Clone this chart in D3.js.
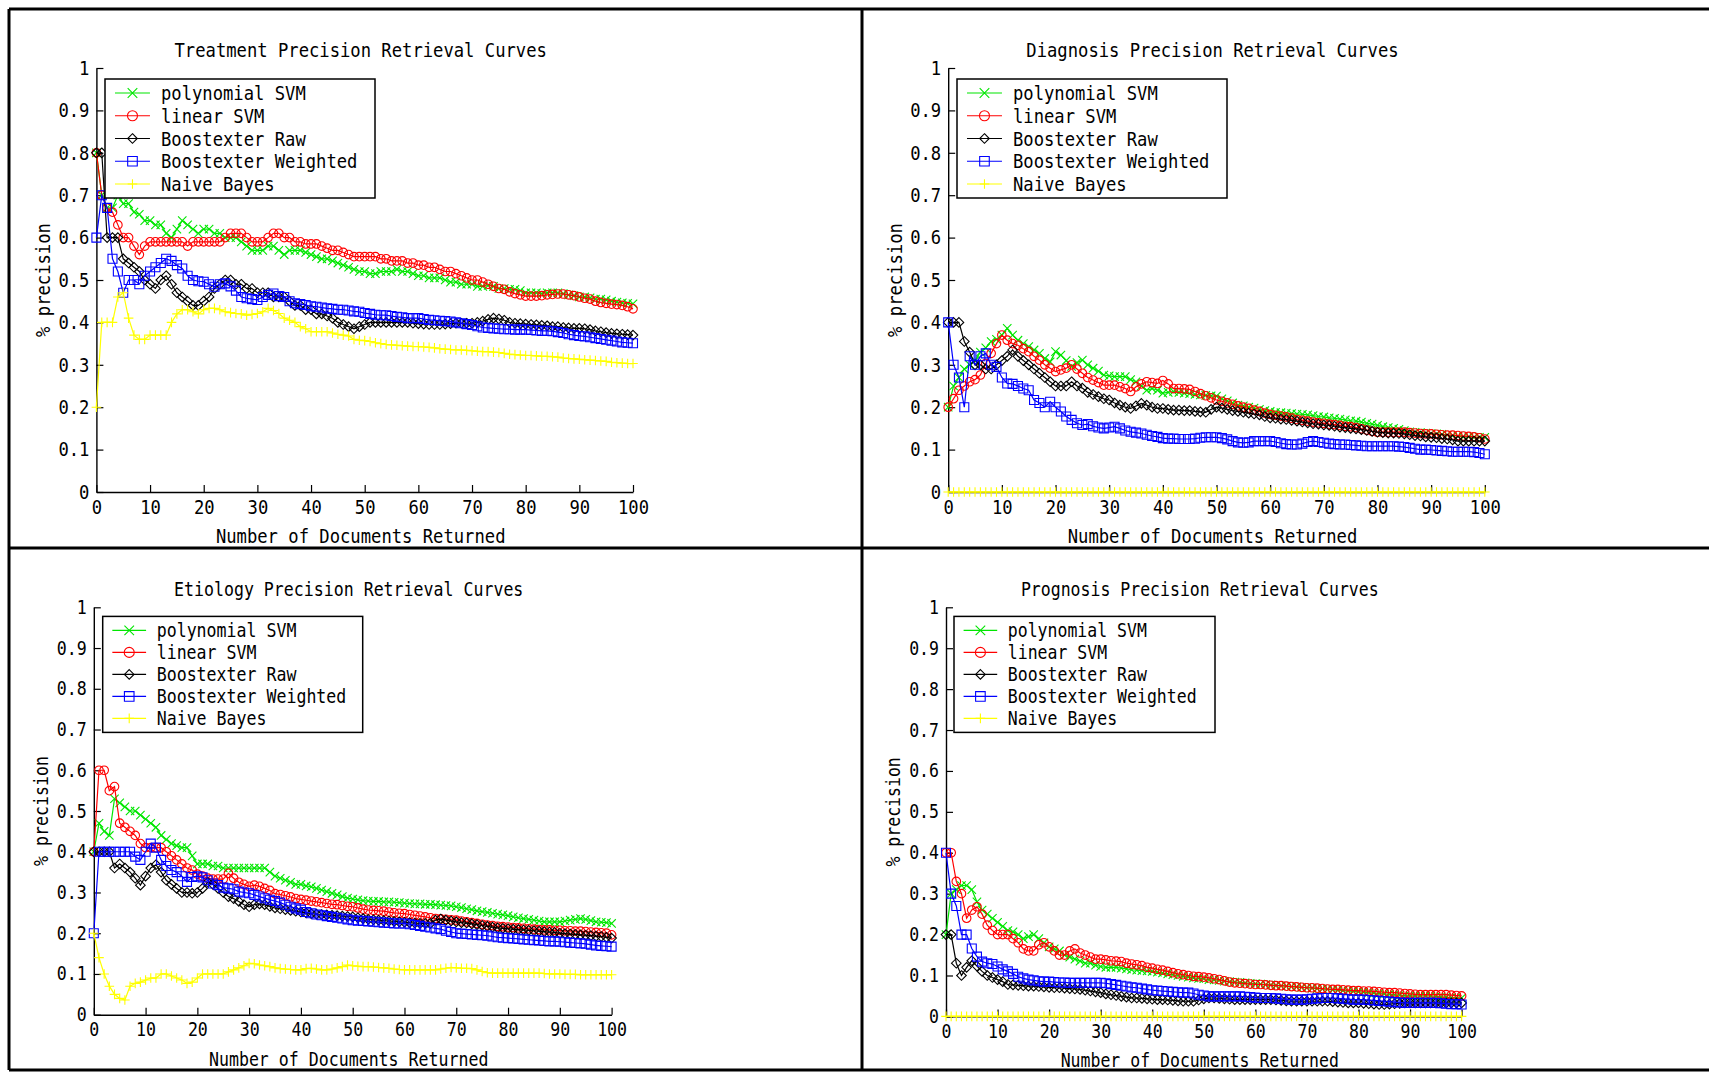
<!DOCTYPE html>
<html lang="en">
<head>
<meta charset="utf-8">
<title>Precision Retrieval Curves</title>
<script src="https://cdn.jsdelivr.net/npm/d3@7"></script>
<style>
  body { margin: 0; background: #fff; }
  svg text { font-family: "DejaVu Sans Mono", "Liberation Mono", monospace; fill: #000; }
  .frame { fill: none; stroke: #000; stroke-width: 3; }
  .legend_box { fill: #fff; stroke: #000; stroke-width: 1.5; }
</style>
</head>
<body>
<div id="chart"></div>
<script>
// ---- data (precision at k documents returned, k = array index 0..100) ----
var seriesNames = ["polynomial SVM", "linear SVM", "Boostexter Raw", "Boostexter Weighted", "Naive Bayes"];
var xTicks = [0, 10, 20, 30, 40, 50, 60, 70, 80, 90, 100];
var yTicks = [0, 0.1, 0.2, 0.3, 0.4, 0.5, 0.6, 0.7, 0.8, 0.9, 1];
var yTickLabels = ["0", "0.1", "0.2", "0.3", "0.4", "0.5", "0.6", "0.7", "0.8", "0.9", "1"];

// Treatment
var trtPoly = [0.80,0.70,0.67,0.67,0.70,0.68,0.68,0.66,0.655,0.64,
  0.64,0.63,0.63,0.61,0.60,0.62,0.64,0.63,0.62,0.61,
  0.62,0.62,0.61,0.61,0.60,0.60,0.60,0.59,0.58,0.57,
  0.57,0.57,0.58,0.58,0.57,0.56,0.57,0.57,0.57,0.565,
  0.56,0.555,0.55,0.55,0.545,0.54,0.535,0.53,0.525,0.52,
  0.52,0.515,0.515,0.52,0.52,0.52,0.525,0.52,0.52,0.515,
  0.51,0.51,0.505,0.505,0.505,0.50,0.495,0.495,0.49,0.49,
  0.49,0.485,0.485,0.487,0.485,0.48,0.48,0.478,0.478,0.475,
  0.47,0.47,0.47,0.468,0.47,0.47,0.47,0.468,0.465,0.463,
  0.46,0.46,0.458,0.455,0.455,0.453,0.45,0.448,0.446,0.445,0.444];
var trtLin = [0.80,0.70,0.67,0.66,0.63,0.60,0.60,0.58,0.56,0.58,
  0.59,0.59,0.59,0.59,0.59,0.59,0.59,0.58,0.59,0.59,
  0.59,0.59,0.59,0.59,0.60,0.61,0.61,0.61,0.60,0.59,
  0.59,0.59,0.60,0.61,0.61,0.60,0.60,0.59,0.59,0.585,
  0.585,0.585,0.58,0.575,0.57,0.57,0.565,0.56,0.555,0.555,
  0.555,0.555,0.555,0.55,0.55,0.545,0.545,0.545,0.54,0.54,
  0.535,0.535,0.53,0.53,0.525,0.52,0.52,0.515,0.51,0.505,
  0.50,0.50,0.495,0.49,0.485,0.48,0.478,0.472,0.468,0.465,
  0.462,0.462,0.462,0.463,0.465,0.466,0.467,0.467,0.465,0.463,
  0.46,0.457,0.455,0.45,0.447,0.445,0.443,0.442,0.44,0.437,0.432];
var trtRaw = [0.80,0.80,0.60,0.60,0.60,0.55,0.54,0.53,0.52,0.50,
  0.49,0.48,0.50,0.51,0.49,0.47,0.46,0.45,0.44,0.44,
  0.45,0.46,0.48,0.49,0.50,0.50,0.49,0.49,0.48,0.48,
  0.47,0.47,0.47,0.46,0.46,0.46,0.45,0.44,0.44,0.43,
  0.43,0.42,0.42,0.415,0.41,0.40,0.395,0.39,0.385,0.39,
  0.395,0.40,0.40,0.40,0.40,0.40,0.40,0.40,0.40,0.398,
  0.397,0.396,0.395,0.395,0.395,0.396,0.397,0.398,0.398,0.398,
  0.398,0.40,0.403,0.407,0.41,0.408,0.405,0.40,0.398,0.397,
  0.396,0.395,0.394,0.393,0.392,0.39,0.39,0.388,0.387,0.386,
  0.386,0.385,0.383,0.38,0.378,0.376,0.374,0.373,0.372,0.371,0.37];
var trtWtd = [0.60,0.70,0.67,0.55,0.52,0.47,0.50,0.50,0.49,0.51,
  0.52,0.53,0.54,0.55,0.545,0.535,0.527,0.51,0.50,0.497,
  0.496,0.49,0.484,0.49,0.492,0.485,0.475,0.46,0.457,0.455,
  0.453,0.46,0.465,0.468,0.462,0.46,0.45,0.445,0.443,0.441,
  0.438,0.437,0.435,0.433,0.432,0.43,0.43,0.428,0.426,0.425,
  0.422,0.42,0.418,0.417,0.417,0.415,0.413,0.412,0.41,0.41,
  0.41,0.408,0.406,0.405,0.404,0.403,0.402,0.40,0.398,0.396,
  0.394,0.391,0.388,0.387,0.386,0.385,0.384,0.384,0.383,0.383,
  0.383,0.382,0.381,0.38,0.38,0.379,0.377,0.375,0.372,0.37,
  0.368,0.367,0.365,0.363,0.361,0.359,0.357,0.355,0.353,0.352,0.351];
var trtNB = [0.20,0.40,0.40,0.40,0.46,0.47,0.41,0.37,0.36,0.36,
  0.37,0.37,0.37,0.37,0.40,0.42,0.43,0.43,0.425,0.42,
  0.43,0.433,0.433,0.43,0.425,0.423,0.421,0.42,0.417,0.419,
  0.421,0.425,0.433,0.428,0.421,0.41,0.405,0.40,0.39,0.385,
  0.378,0.378,0.378,0.378,0.375,0.372,0.37,0.368,0.36,0.358,
  0.357,0.355,0.352,0.35,0.348,0.347,0.346,0.345,0.344,0.343,
  0.343,0.342,0.341,0.34,0.338,0.337,0.336,0.335,0.335,0.334,
  0.333,0.332,0.331,0.331,0.33,0.329,0.327,0.325,0.324,0.323,
  0.322,0.322,0.321,0.32,0.32,0.319,0.318,0.316,0.315,0.314,
  0.313,0.312,0.311,0.31,0.309,0.308,0.306,0.305,0.304,0.303,0.303];

// Diagnosis
var dxPoly = [0.20,0.25,0.27,0.29,0.30,0.31,0.33,0.34,0.355,0.36,
  0.37,0.386,0.37,0.358,0.35,0.343,0.335,0.327,0.315,0.307,
  0.331,0.323,0.31,0.296,0.305,0.311,0.30,0.292,0.285,0.276,
  0.274,0.272,0.272,0.272,0.265,0.26,0.25,0.24,0.244,0.24,
  0.233,0.235,0.237,0.235,0.233,0.232,0.23,0.229,0.228,0.227,
  0.226,0.22,0.215,0.21,0.205,0.203,0.20,0.198,0.195,0.192,
  0.19,0.188,0.187,0.186,0.185,0.184,0.183,0.182,0.18,0.178,
  0.177,0.175,0.174,0.172,0.17,0.168,0.167,0.165,0.162,0.16,
  0.157,0.154,0.152,0.15,0.148,0.145,0.142,0.141,0.14,0.139,
  0.138,0.137,0.136,0.134,0.133,0.132,0.13,0.13,0.129,0.129,0.129];
var dxLin = [0.20,0.22,0.24,0.25,0.26,0.265,0.276,0.303,0.327,0.35,
  0.37,0.358,0.35,0.346,0.338,0.331,0.32,0.311,0.30,0.292,
  0.284,0.288,0.292,0.30,0.29,0.28,0.27,0.264,0.258,0.252,
  0.252,0.252,0.248,0.244,0.237,0.248,0.255,0.26,0.258,0.256,
  0.263,0.255,0.244,0.244,0.243,0.242,0.237,0.232,0.227,0.222,
  0.217,0.214,0.21,0.207,0.203,0.20,0.197,0.193,0.19,0.186,
  0.183,0.181,0.179,0.177,0.174,0.171,0.169,0.167,0.165,0.163,
  0.162,0.16,0.159,0.157,0.155,0.154,0.152,0.149,0.146,0.143,
  0.141,0.141,0.141,0.141,0.141,0.141,0.14,0.139,0.138,0.137,
  0.137,0.136,0.135,0.134,0.134,0.133,0.132,0.131,0.13,0.128,0.125];
var dxRaw = [0.40,0.40,0.40,0.355,0.33,0.30,0.30,0.29,0.29,0.30,
  0.31,0.32,0.335,0.32,0.31,0.30,0.29,0.28,0.27,0.26,
  0.25,0.25,0.25,0.26,0.25,0.245,0.235,0.23,0.225,0.22,
  0.217,0.21,0.205,0.20,0.197,0.203,0.209,0.205,0.20,0.197,
  0.197,0.195,0.193,0.193,0.192,0.192,0.19,0.189,0.188,0.195,
  0.20,0.198,0.195,0.192,0.19,0.188,0.186,0.184,0.182,0.178,
  0.175,0.174,0.172,0.171,0.169,0.167,0.165,0.163,0.161,0.16,
  0.158,0.157,0.155,0.153,0.152,0.15,0.149,0.147,0.145,0.143,
  0.141,0.14,0.139,0.139,0.138,0.137,0.135,0.133,0.132,0.13,
  0.129,0.128,0.126,0.125,0.123,0.12,0.12,0.12,0.12,0.12,0.12];
var dxWtd = [0.40,0.30,0.27,0.20,0.32,0.30,0.32,0.327,0.30,0.295,
  0.27,0.256,0.255,0.25,0.244,0.24,0.217,0.21,0.20,0.213,
  0.20,0.19,0.178,0.17,0.162,0.158,0.16,0.155,0.152,0.15,
  0.152,0.154,0.15,0.145,0.142,0.14,0.138,0.135,0.132,0.13,
  0.127,0.126,0.126,0.125,0.125,0.125,0.126,0.128,0.129,0.129,
  0.129,0.127,0.124,0.12,0.117,0.116,0.117,0.12,0.12,0.12,
  0.12,0.118,0.115,0.113,0.112,0.112,0.114,0.118,0.12,0.118,
  0.116,0.114,0.113,0.112,0.112,0.111,0.11,0.109,0.108,0.108,
  0.108,0.108,0.108,0.108,0.107,0.106,0.104,0.102,0.10,0.10,
  0.099,0.098,0.097,0.096,0.095,0.095,0.095,0.095,0.094,0.092,0.089];
var dxNB = [0,0,0,0,0,0,0,0,0,0, 0,0,0,0,0,0,0,0,0,0,
  0,0,0,0,0,0,0,0,0,0, 0,0,0,0,0,0,0,0,0,0,
  0,0,0,0,0,0,0,0,0,0, 0,0,0,0,0,0,0,0,0,0,
  0,0,0,0,0,0,0,0,0,0, 0,0,0,0,0,0,0,0,0,0,
  0,0,0,0,0,0,0,0,0,0, 0,0,0,0,0,0,0,0,0,0, 0];

// Etiology
var etPoly = [0.40,0.47,0.45,0.44,0.53,0.52,0.51,0.50,0.50,0.49,
  0.48,0.47,0.46,0.44,0.43,0.42,0.415,0.41,0.41,0.39,
  0.37,0.37,0.37,0.365,0.365,0.36,0.36,0.36,0.36,0.36,
  0.36,0.36,0.36,0.36,0.35,0.34,0.335,0.33,0.325,0.32,
  0.32,0.316,0.314,0.31,0.306,0.302,0.298,0.294,0.29,0.286,
  0.284,0.282,0.28,0.279,0.278,0.278,0.277,0.277,0.276,0.275,
  0.274,0.273,0.272,0.272,0.271,0.271,0.27,0.269,0.268,0.267,
  0.265,0.263,0.26,0.258,0.255,0.253,0.251,0.249,0.247,0.245,
  0.243,0.24,0.238,0.236,0.234,0.232,0.23,0.228,0.228,0.228,
  0.228,0.23,0.232,0.234,0.236,0.234,0.231,0.228,0.227,0.226,0.224];
var etLin = [0.40,0.60,0.60,0.55,0.56,0.47,0.46,0.45,0.44,0.42,
  0.41,0.41,0.41,0.41,0.40,0.39,0.38,0.37,0.36,0.355,
  0.345,0.34,0.335,0.333,0.333,0.333,0.347,0.335,0.325,0.32,
  0.315,0.318,0.315,0.31,0.305,0.297,0.295,0.292,0.289,0.285,
  0.283,0.281,0.279,0.277,0.275,0.273,0.271,0.27,0.268,0.266,
  0.265,0.262,0.259,0.257,0.256,0.255,0.254,0.252,0.25,0.249,
  0.248,0.246,0.244,0.242,0.24,0.238,0.236,0.235,0.234,0.233,
  0.232,0.23,0.228,0.226,0.224,0.222,0.22,0.219,0.217,0.216,
  0.215,0.214,0.213,0.212,0.211,0.21,0.209,0.208,0.208,0.207,
  0.207,0.206,0.206,0.205,0.205,0.204,0.203,0.202,0.201,0.20,0.196];
var etRaw = [0.40,0.40,0.40,0.40,0.36,0.37,0.36,0.35,0.335,0.318,
  0.34,0.36,0.368,0.35,0.33,0.32,0.31,0.30,0.30,0.298,
  0.30,0.31,0.325,0.32,0.31,0.30,0.29,0.285,0.278,0.27,
  0.265,0.27,0.272,0.27,0.266,0.262,0.26,0.258,0.256,0.254,
  0.252,0.25,0.248,0.247,0.246,0.245,0.244,0.243,0.242,0.241,
  0.24,0.238,0.236,0.234,0.233,0.232,0.231,0.23,0.229,0.228,
  0.227,0.226,0.225,0.224,0.224,0.224,0.232,0.235,0.232,0.23,
  0.228,0.226,0.225,0.223,0.221,0.219,0.217,0.215,0.213,0.212,
  0.211,0.21,0.209,0.208,0.207,0.206,0.205,0.204,0.203,0.202,
  0.20,0.199,0.198,0.197,0.196,0.195,0.194,0.193,0.192,0.19,0.188];
var etWtd = [0.20,0.40,0.40,0.40,0.40,0.40,0.40,0.40,0.388,0.38,
  0.40,0.42,0.41,0.38,0.365,0.355,0.35,0.34,0.326,0.338,
  0.34,0.337,0.33,0.322,0.318,0.312,0.31,0.308,0.302,0.30,
  0.298,0.294,0.29,0.286,0.282,0.279,0.275,0.27,0.265,0.261,
  0.258,0.252,0.249,0.246,0.244,0.242,0.24,0.238,0.236,0.234,
  0.232,0.231,0.23,0.229,0.228,0.227,0.226,0.225,0.224,0.224,
  0.224,0.222,0.22,0.218,0.216,0.214,0.212,0.21,0.206,0.203,
  0.20,0.199,0.198,0.197,0.196,0.195,0.194,0.192,0.19,0.189,
  0.188,0.187,0.186,0.185,0.184,0.183,0.182,0.181,0.18,0.18,
  0.179,0.178,0.177,0.176,0.175,0.174,0.172,0.17,0.169,0.168,0.167];
var etNB = [0.20,0.14,0.10,0.07,0.05,0.04,0.036,0.07,0.077,0.08,
  0.085,0.09,0.09,0.10,0.10,0.095,0.09,0.085,0.077,0.08,
  0.09,0.10,0.10,0.10,0.10,0.10,0.105,0.11,0.115,0.12,
  0.126,0.125,0.122,0.12,0.118,0.115,0.113,0.112,0.111,0.11,
  0.11,0.113,0.114,0.112,0.11,0.11,0.112,0.115,0.118,0.122,
  0.12,0.119,0.118,0.118,0.117,0.116,0.115,0.114,0.112,0.111,
  0.11,0.11,0.11,0.11,0.11,0.11,0.11,0.112,0.114,0.116,
  0.115,0.114,0.114,0.113,0.11,0.106,0.103,0.102,0.102,0.102,
  0.102,0.102,0.102,0.102,0.102,0.102,0.102,0.101,0.10,0.10,
  0.10,0.099,0.099,0.099,0.098,0.098,0.098,0.098,0.098,0.098,0.098];

// Prognosis
var prPoly = [0.20,0.30,0.31,0.32,0.32,0.31,0.28,0.26,0.25,0.24,
  0.23,0.22,0.21,0.207,0.20,0.19,0.195,0.20,0.19,0.18,
  0.17,0.165,0.16,0.15,0.145,0.14,0.135,0.13,0.13,0.125,
  0.122,0.12,0.12,0.12,0.118,0.116,0.114,0.113,0.112,0.111,
  0.11,0.108,0.106,0.104,0.102,0.10,0.098,0.096,0.094,0.093,
  0.092,0.09,0.089,0.088,0.086,0.085,0.084,0.083,0.082,0.081,
  0.08,0.079,0.078,0.077,0.076,0.075,0.074,0.073,0.072,0.071,
  0.07,0.069,0.068,0.067,0.066,0.065,0.064,0.063,0.062,0.061,
  0.06,0.059,0.058,0.057,0.056,0.055,0.054,0.053,0.052,0.051,
  0.05,0.05,0.05,0.05,0.05,0.049,0.048,0.047,0.046,0.046,0.045];
var prLin = [0.40,0.40,0.33,0.30,0.24,0.26,0.268,0.25,0.223,0.21,
  0.20,0.20,0.20,0.19,0.18,0.165,0.16,0.16,0.175,0.18,
  0.17,0.16,0.15,0.15,0.16,0.165,0.155,0.15,0.145,0.14,
  0.14,0.138,0.136,0.135,0.134,0.13,0.128,0.126,0.124,0.12,
  0.118,0.115,0.113,0.11,0.107,0.104,0.102,0.10,0.098,0.097,
  0.096,0.094,0.092,0.09,0.087,0.084,0.082,0.081,0.08,0.079,
  0.078,0.078,0.077,0.076,0.075,0.075,0.074,0.073,0.072,0.071,
  0.07,0.07,0.069,0.068,0.067,0.066,0.066,0.065,0.064,0.063,
  0.063,0.062,0.062,0.061,0.06,0.059,0.058,0.058,0.057,0.056,
  0.055,0.054,0.053,0.053,0.053,0.053,0.053,0.053,0.052,0.051,0.05];
var prRaw = [0.20,0.20,0.13,0.10,0.12,0.136,0.123,0.11,0.10,0.095,
  0.09,0.085,0.078,0.077,0.076,0.075,0.074,0.074,0.073,0.072,
  0.071,0.07,0.07,0.069,0.068,0.067,0.066,0.064,0.062,0.06,
  0.058,0.055,0.053,0.051,0.049,0.047,0.045,0.045,0.044,0.043,
  0.042,0.041,0.041,0.04,0.039,0.038,0.037,0.037,0.037,0.04,
  0.043,0.045,0.045,0.044,0.043,0.042,0.041,0.041,0.041,0.041,
  0.041,0.041,0.041,0.041,0.04,0.039,0.038,0.037,0.037,0.037,
  0.037,0.037,0.037,0.037,0.037,0.036,0.035,0.034,0.033,0.033,
  0.033,0.032,0.031,0.03,0.029,0.029,0.03,0.031,0.032,0.033,
  0.033,0.033,0.033,0.033,0.033,0.033,0.033,0.033,0.033,0.033,0.033];
var prWtd = [0.40,0.30,0.27,0.20,0.20,0.166,0.146,0.134,0.13,0.128,
  0.122,0.115,0.11,0.104,0.097,0.093,0.09,0.088,0.086,0.085,
  0.085,0.084,0.083,0.083,0.082,0.082,0.082,0.082,0.082,0.082,
  0.082,0.081,0.079,0.077,0.075,0.073,0.071,0.07,0.068,0.066,
  0.064,0.063,0.062,0.061,0.06,0.059,0.058,0.058,0.056,0.053,
  0.051,0.049,0.049,0.049,0.049,0.049,0.049,0.049,0.048,0.047,
  0.046,0.045,0.045,0.045,0.044,0.043,0.042,0.041,0.041,0.041,
  0.042,0.043,0.044,0.045,0.045,0.045,0.044,0.043,0.042,0.041,
  0.041,0.041,0.04,0.039,0.038,0.037,0.036,0.035,0.034,0.033,
  0.033,0.033,0.033,0.033,0.033,0.033,0.032,0.031,0.03,0.03,0.029];
var prNB = [0,0,0,0,0,0,0,0,0,0, 0,0,0,0,0,0,0,0,0,0,
  0,0,0,0,0,0,0,0,0,0, 0,0,0,0,0,0,0,0,0,0,
  0,0,0,0,0,0,0,0,0,0, 0,0,0,0,0,0,0,0,0,0,
  0,0,0,0,0,0,0,0,0,0, 0,0,0,0,0,0,0,0,0,0,
  0,0,0,0,0,0,0,0,0,0, 0,0,0,0,0,0,0,0,0,0, 0];

// ---- styles ----
var colors = ["#00e600", "#ff0000", "#000000", "#0000ff", "#ffff00"];
var markers = ["x", "o", "d", "s", "+"];
var FONT = '"DejaVu Sans Mono", "Liberation Mono", monospace';
var CHAR_W = 10.35; // width of one character of the fixed font in the picture

// panel layout (pixel positions of the axes in the 1709x1073 page)
var panels = [
  {title: "Treatment Precision Retrieval Curves", data: [trtPoly, trtLin, trtRaw, trtWtd, trtNB],
   left: 96.4, right: 633, top: 68, bottom: 492, legend: {x: 105, y: 79, w: 270, h: 119}},
  {title: "Diagnosis Precision Retrieval Curves", data: [dxPoly, dxLin, dxRaw, dxWtd, dxNB],
   left: 948.2, right: 1484.8, top: 68, bottom: 492, legend: {x: 957, y: 79, w: 270, h: 119}},
  {title: "Etiology Precision Retrieval Curves", data: [etPoly, etLin, etRaw, etWtd, etNB],
   left: 93.8, right: 611.6, top: 607.3, bottom: 1014.7, legend: {x: 102.7, y: 616.4, w: 260, h: 116}},
  {title: "Prognosis Precision Retrieval Curves", data: [prPoly, prLin, prRaw, prWtd, prNB],
   left: 946, right: 1461.6, top: 607.3, bottom: 1016.4, legend: {x: 954, y: 616.4, w: 261, h: 116}}
];

var W = 1709, H = 1073;
var svg = d3.select("#chart").append("svg")
  .attr("width", W).attr("height", H)
  .style("display", "block");

svg.append("rect").attr("width", W).attr("height", H).attr("fill", "#fff");

// frame lines round the four panels
svg.append("path").attr("class", "frame")
  .attr("d", "M9,9H" + W + "M9,548H" + W + "M9,1070H" + W + "M9,9V1070M862,9V1070");

function markerPath(type, r) {
  if (type == "x") return "M" + (-r) + "," + (-r) + "L" + r + "," + r + "M" + (-r) + "," + r + "L" + r + "," + (-r);
  if (type == "+") return "M" + (-r) + ",0H" + r + "M0," + (-r) + "V" + r;
  if (type == "d") return "M0," + (-r) + "L" + r + ",0L0," + r + "L" + (-r) + ",0Z";
  if (type == "s") return "M" + (-r) + "," + (-r) + "H" + r + "V" + r + "H" + (-r) + "Z";
  // circle
  return "M" + r + ",0A" + r + "," + r + " 0 1,1 " + (-r) + ",0A" + r + "," + r + " 0 1,1 " + r + ",0";
}
var markerSize = {x: 4.2, o: 4.3, d: 4.8, s: 4.5, "+": 4.8};

// tall narrow fixed font: squeeze a bigger font into the glyph width of the picture
function fitText(sel, s) {
  sel.each(function() {
    var t = d3.select(this);
    var n = t.text().length;
    t.attr("textLength", n * CHAR_W * s).attr("lengthAdjust", "spacingAndGlyphs");
  });
}

panels.forEach(function(p) {
  var s = (p.right - p.left) / 537; // size factor of the panel
  var fs = 19.5 * s;
  var x = d3.scaleLinear().domain([0, 100]).range([p.left, p.right]);
  var y = d3.scaleLinear().domain([0, 1]).range([p.bottom, p.top]);
  var g = svg.append("g");

  // axes with inward ticks
  var xAxis = d3.axisBottom(x).tickValues(xTicks).tickSizeInner(-7).tickSizeOuter(0).tickPadding(8);
  var yAxis = d3.axisLeft(y).tickValues(yTicks).tickSizeInner(-7).tickSizeOuter(0).tickPadding(7)
    .tickFormat(function(d, i) { return yTickLabels[i]; });

  var gx = g.append("g").attr("transform", "translate(0," + p.bottom + ")").call(xAxis)
    .attr("font-family", FONT).attr("font-size", fs);
  var gy = g.append("g").attr("transform", "translate(" + p.left + ",0)").call(yAxis)
    .attr("font-family", FONT).attr("font-size", fs);
  fitText(gx.selectAll(".tick text"), s);
  fitText(gy.selectAll(".tick text"), s);
  g.selectAll(".domain").attr("stroke-width", 1.4);
  g.selectAll(".tick line").attr("stroke-width", 1.2);

  // series
  var line = d3.line().x(function(d, i) { return x(i); }).y(function(d) { return y(d); });
  p.data.forEach(function(vals, k) {
    var sg = g.append("g");
    sg.append("path").datum(vals)
      .attr("d", line)
      .attr("fill", "none")
      .attr("stroke", colors[k])
      .attr("stroke-width", 1.2);
    sg.selectAll("path.mk").data(vals).enter().append("path")
      .attr("class", "mk")
      .attr("transform", function(d, i) { return "translate(" + x(i) + "," + y(d) + ")"; })
      .attr("d", markerPath(markers[k], markerSize[markers[k]]))
      .attr("fill", "none")
      .attr("stroke", colors[k])
      .attr("stroke-width", 1.1);
  });

  // title and axis labels
  var cx = (p.left + p.right) / 2 - 4;
  g.append("text").attr("x", cx).attr("y", p.top - 11)
    .attr("text-anchor", "middle").attr("font-size", fs)
    .text(p.title).call(fitText, s);
  g.append("text").attr("x", cx).attr("y", p.bottom + 51)
    .attr("text-anchor", "middle").attr("font-size", fs)
    .text("Number of Documents Returned").call(fitText, s);
  g.append("text")
    .attr("transform", "translate(" + (p.left - 46) + "," + ((p.top + p.bottom) / 2) + ") rotate(-90)")
    .attr("text-anchor", "middle").attr("font-size", fs)
    .text("% precision").call(fitText, s);

  // legend
  var L = p.legend;
  var lg = g.append("g").attr("transform", "translate(" + L.x + "," + L.y + ")");
  lg.append("rect").attr("class", "legend_box").attr("width", L.w).attr("height", L.h);
  var step = (L.h - 28) / 4;
  seriesNames.forEach(function(name, k) {
    var ry = 14 + k * step;
    lg.append("line").attr("x1", 10 * s).attr("x2", 45 * s).attr("y1", ry).attr("y2", ry)
      .attr("stroke", colors[k]).attr("stroke-width", 1.2);
    lg.append("path").attr("transform", "translate(" + (27.5 * s) + "," + ry + ")")
      .attr("d", markerPath(markers[k], markers[k] == "o" ? 5 : 4.8))
      .attr("fill", "none").attr("stroke", colors[k]).attr("stroke-width", 1.1);
    lg.append("text").attr("x", 56 * s).attr("y", ry + 7).attr("font-size", fs)
      .text(name).call(fitText, s);
  });
});
</script>
</body>
</html>
